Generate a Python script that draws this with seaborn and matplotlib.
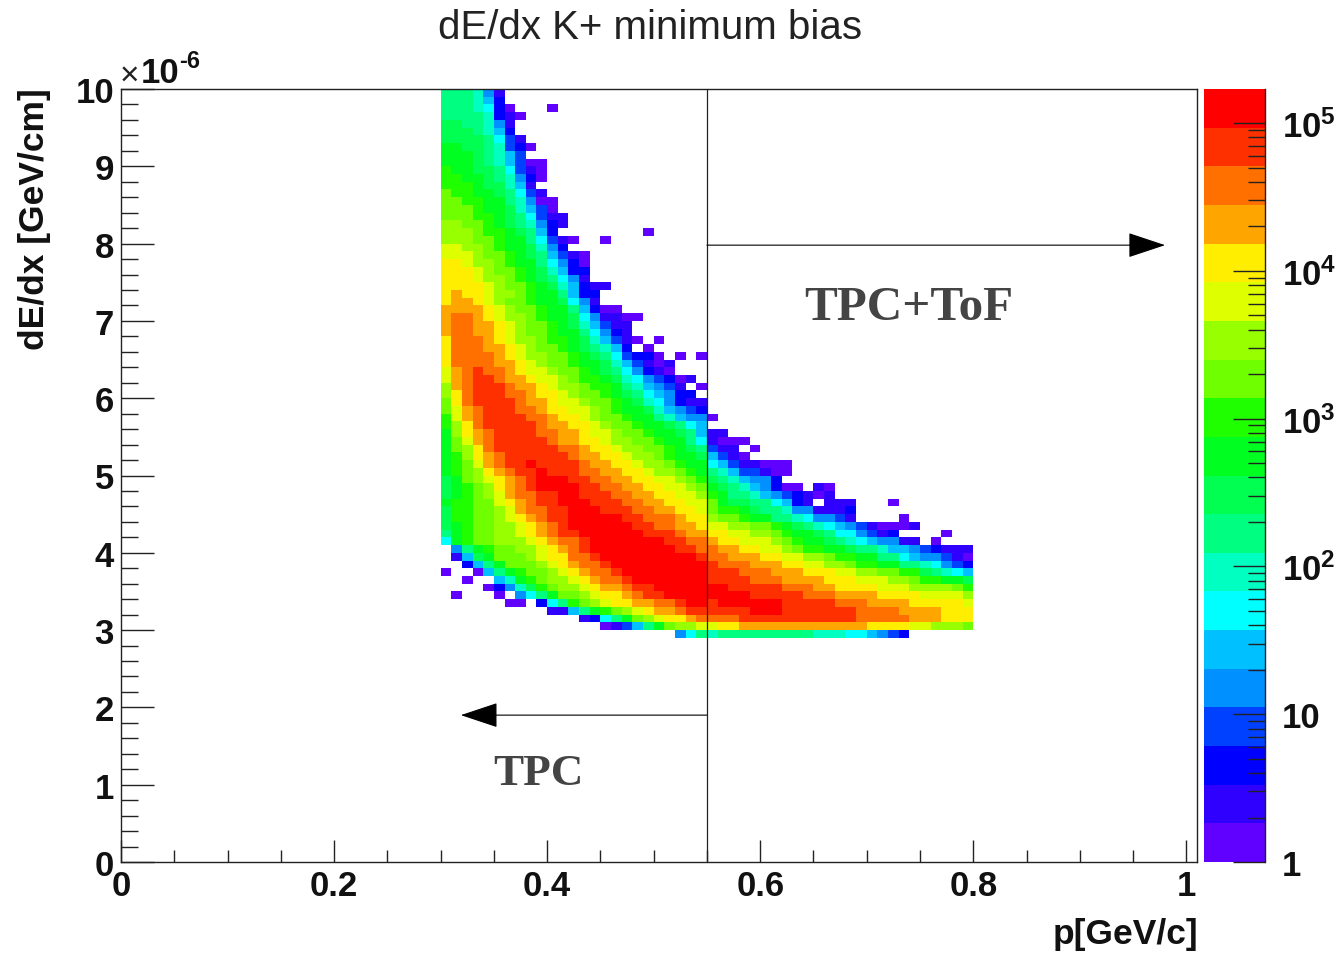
import numpy as np
import pandas as pd
import matplotlib
matplotlib.use('Agg')
import matplotlib.pyplot as plt
from matplotlib.colors import ListedColormap, LogNorm
from matplotlib.ticker import FixedLocator, LogLocator, NullFormatter
import seaborn as sns

# colour band of each bin: 0-9,a-j = band 0..19, '.' = empty bin
# one string per row, top row is 9.9-10 (x1e-6), first char is p = 0.30-0.31
level_rows = [
    "888741",
    "888752",
    "8887620...0",
    "88887210",
    "9988741",
    "9998752",
    "99998631",
    "aa9987320",
    "aaa98753",
    "aaa9875300",
    "baa9986310",
    "bbaa987420",
    "bbba99751",
    "cbbaa98631",
    "ccbbaa87400",
    "cccbaa97530",
    "cccbba986311",
    "ddccba987421",
    "dddcbba9852........0",
    "dddccbaa86310..0",
    "eeddcbaa9742",
    "eeedccba985310",
    "ffeddcbaa86420",
    "fffedccba97522",
    "fffeddcba98641",
    "ffffedccba975211",
    "fgffeddcbaa8522",
    "fggfedccbaa9641",
    "ggggfedccbaa85200",
    "ghhgfeddcbaa9641100",
    "ghhggfedccba975311",
    "ghhggfedccbaa86421",
    "fhhhgfeddcbba975310.0",
    "fhhhggfedccba98752.0",
    "fhhhhgfeddccba9863220.0.0",
    "fhhhhggfedccbaa9753101",
    "eghihhgfeedccba9864210",
    "eghiihggfeedcbba97643201",
    "dghiiihggfeddcbba875431.0",
    "dfhiiihhgffedccba9865422",
    "cfhiiiihggfeedccba9764211",
    "ceghiiihhgffeedcbaa975432",
    "beghiiiihhgffedccbaa875440",
    "bdfhiiiiihggffedccbaa9865",
    "adfghiiiihhggfeedccbaa98511",
    "aceghiiiiihggffeddccbaa861000",
    "acdfhiiiiiihhgffeddccba98311.0",
    "abdfghiiiiiihggffeddcbaa95310",
    "abceghiijiiiihggffeddcbaa65311000",
    "abcdfghiijiiihhggffeddcba87533100",
    "9acdefghijjjiihhggffeedcb9875442",
    "9abcdfghijjjjiihhggffeedca98754200.10",
    "9abcdeghhiijjiiihhggffeedba8875432101",
    "abbccefghiijjjiiihhggffeeca99886521.111...0",
    "9bbccdeghhiijjjiiihhggffecbba9887441112",
    "9bbccdefghiijjjjjiihhhgffdccbaa88764431....0",
    "9abccddefghijjjjjjiihhggfeeddccba987654310001",
    "8abccddefghiijjjjjjiiihggffeeddcbaa98664312....0",
    "6abccdddefghhijjjjjjjiihhgffeeedcbaa987654411.0",
    ".48abccddefghijjjjjjjjiihhggffeedcbbaa988755432111",
    ".159acccdeffhhijjjjjjjjjihhgggffeeddcbbaa886544310",
    "..258acccdefghhijjjjjjjjjihhhgggffeeddcbbaa8876432",
    "0..058abccdefghhijjjjjjjjiiihhhgggfffeeddccbb98765",
    "..0..57abcddefghhijjjjjjjiiiihhhggggfffeeeddcbbaa9",
    "....02479bcddefgghiijjjjjjjiiiiihhhggffffeeeddddcb",
    ".0...0.468accdeffghiijjjjjjjjiiiiihhhggggffffeeeed",
    "......00.268bcdeffgghhijjijjjjjjiiiiihhhggggfffffe",
    "..........1158abcdefgghiiiiiijjjiiiiiiihhhhggggfff",
    ".............1268acdeffghhhhiiiiiiiiiiihhhhhgggfff",
    "...............01358acddeeffggggggggggggffffeedddc",
    "......................4687888888888777665432",
]
band_colors = ['#6000ff', '#3000ff', '#0000ff', '#0040ff', '#0090ff', '#00c0ff', '#00ffff',
               '#00ffc0', '#00ff80', '#00ff50', '#00ff20', '#20ff00', '#70ff00', '#98ff00',
               '#deff00', '#ffee00', '#ffa500', '#ff7000', '#ff3000', '#ff0000']
z_max = 1.7e5
x_major = [0, 0.2, 0.4, 0.6, 0.8, 1.0]
x_major_labels = ['0', '0.2', '0.4', '0.6', '0.8', '1']
y_major = [0, 1, 2, 3, 4, 5, 6, 7, 8, 9, 10]
cb_ticks = [1, 10, 100, 1000, 10000, 100000]
cb_labels = ['1', '10', r'$\mathbf{10^{2}}$', r'$\mathbf{10^{3}}$', r'$\mathbf{10^{4}}$', r'$\mathbf{10^{5}}$']

# 101 x 100 bins of 0.01 GeV/c and 0.1e-6 GeV/cm
n_x, n_y = 101, 100
first_col = 30
counts = np.full((n_y, n_x), np.nan)
for j, row in enumerate(level_rows):
    if len(row) > 50:
        print('long row', j, len(row))
    for i, ch in enumerate(row):
        if ch != '.':
            band = int(ch, 20)
            counts[j, first_col + i] = 10 ** ((band + 0.5) * np.log10(z_max) / 20)
df = pd.DataFrame(counts)

sns.set_theme(style='white')
plt.rcParams['font.family'] = ['Liberation Sans', 'DejaVu Sans']
plt.rcParams['mathtext.fontset'] = 'custom'
plt.rcParams['mathtext.bf'] = 'Liberation Sans:bold'
plt.rcParams['mathtext.rm'] = 'Liberation Sans'
plt.rcParams['axes.axisbelow'] = False

W, H = 1336, 954
fig = plt.figure(figsize=(W / 100, H / 100), dpi=100, facecolor='white')
ax = fig.add_axes([121 / W, 1 - 863 / H, 1076 / W, 773 / H])
cax = fig.add_axes([1204 / W, 1 - 863 / H, 61 / W, 773 / H])

sns.heatmap(df, ax=ax, cbar_ax=cax, cmap=ListedColormap(band_colors),
            norm=LogNorm(vmin=1, vmax=z_max), xticklabels=False, yticklabels=False)

# main axis, ticks in bin units
edge = '#222222'
for s in ax.spines.values():
    s.set_visible(True)
    s.set_color(edge)
    s.set_linewidth(1.0)
ax.set_xlabel('')
ax.set_ylabel('')
ax.set_xticks([v * 100 for v in x_major])
ax.set_xticklabels(x_major_labels, fontsize=25, fontweight='bold', color='#111111')
ax.set_yticks([(10 - v) * 10 for v in y_major])
ax.set_yticklabels([str(v) for v in y_major], fontsize=25, fontweight='bold', color='#111111')
ax.xaxis.set_minor_locator(FixedLocator(np.arange(0, 101, 5)))
ax.yaxis.set_minor_locator(FixedLocator(np.arange(0, 101, 2)))
ax.tick_params(axis='x', which='major', direction='in', bottom=True, length=16, width=1.0, color=edge, pad=5)
ax.tick_params(axis='x', which='minor', direction='in', bottom=True, length=9, width=1.0, color=edge)
ax.tick_params(axis='y', which='major', direction='in', left=True, length=24, width=1.0, color=edge, pad=5)
ax.tick_params(axis='y', which='minor', direction='in', left=True, length=12.5, width=1.0, color=edge)

# colour bar
cb = ax.collections[0].colorbar
cb.outline.set_visible(False)
cax.set_axisbelow(False)
cax.spines['right'].set_visible(True)
cax.spines['right'].set_color(edge)
cax.spines['right'].set_linewidth(1.0)
cb.set_ticks(cb_ticks)
cb.set_ticklabels(cb_labels)
cax.yaxis.set_minor_locator(LogLocator(base=10, subs=range(2, 10), numticks=12))
cax.yaxis.set_minor_formatter(NullFormatter())
cax.tick_params(axis='y', which='major', direction='in', right=True, left=False, length=23, width=1.0,
                color=edge, pad=12, labelsize=25, labelcolor='#111111')
cax.tick_params(axis='y', which='minor', direction='in', right=True, left=False, length=12, width=1.0, color=edge)
for t in cax.get_yticklabels():
    t.set_fontweight('bold')

# TPC / ToF split
ax.axvline(55, color='#222222', lw=0.9, clip_on=False)
ax.annotate('', xy=(98.0, 20.2), xytext=(55, 20.2),
            arrowprops=dict(arrowstyle='-|>,head_length=2.4,head_width=0.8', mutation_scale=10,
                            color='black', lw=0.8, shrinkA=0, shrinkB=0), annotation_clip=False)
ax.annotate('', xy=(31.9, 81), xytext=(55, 81),
            arrowprops=dict(arrowstyle='-|>,head_length=2.4,head_width=0.8', mutation_scale=10,
                            color='black', lw=0.8, shrinkA=0, shrinkB=0), annotation_clip=False)

def px_text(x, y, s, **kw):
    fig.text(x / W, 1 - y / H, s, **kw)

px_text(650, 28, 'dE/dx K+ minimum bias', ha='center', va='center', fontsize=29, color='#222222')
px_text(35, 88, 'dE/dx [GeV/cm]', ha='center', va='top', rotation=90, fontsize=25.5, fontweight='bold', color='#111111')
px_text(1198, 935, 'p[GeV/c]', ha='right', va='center', fontsize=25.5, fontweight='bold', color='#111111')
px_text(120, 85, '\u00d7', ha='left', va='baseline', fontsize=24, color='#222222')
px_text(141, 83, '10', ha='left', va='baseline', fontsize=25, fontweight='bold', color='#111111')
px_text(179, 68, '-6', ha='left', va='baseline', fontsize=17, fontweight='bold', color='#111111')
px_text(909, 320, 'TPC+ToF', ha='center', va='baseline', fontsize=35.4, fontweight='bold',
        family=['Liberation Serif', 'DejaVu Serif'], color='#444444')
px_text(538, 785, 'TPC', ha='center', va='baseline', fontsize=32.5, fontweight='bold',
        family=['Liberation Serif', 'DejaVu Serif'], color='#444444')

plt.savefig('out.png', dpi=100)
plt.close()
